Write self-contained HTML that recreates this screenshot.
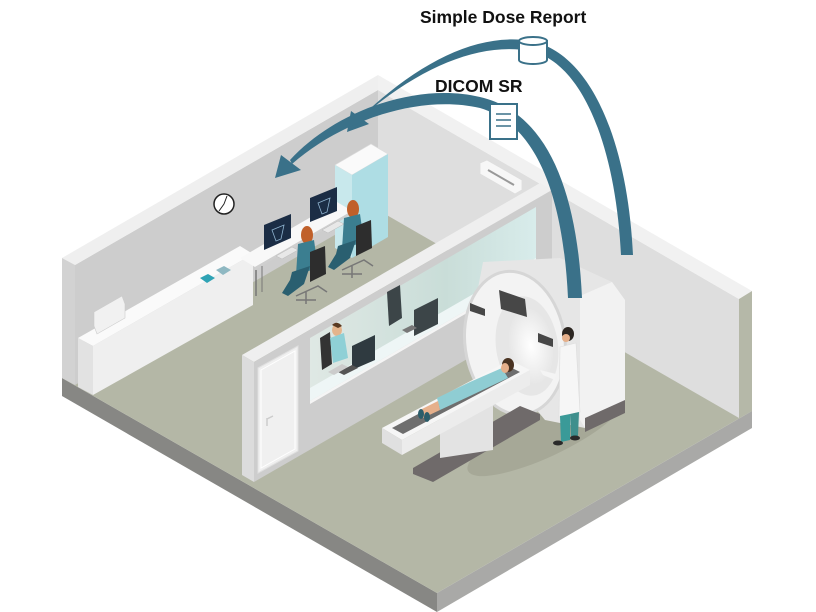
<!DOCTYPE html>
<html><head><meta charset="utf-8"><style>
html,body{margin:0;padding:0;background:#fff;}
svg{display:block;}
text{font-family:"Liberation Sans",sans-serif;font-weight:bold;fill:#111;}
</style></head><body>
<svg width="816" height="612" viewBox="0 0 816 612" xmlns="http://www.w3.org/2000/svg">
<defs>
<linearGradient id="glass" x1="0" y1="0" x2="1" y2="0">
<stop offset="0" stop-color="#dfe8e4"/><stop offset="0.6" stop-color="#c9ddd8"/><stop offset="1" stop-color="#d8eceb"/>
</linearGradient>
<radialGradient id="hole" cx="0.5" cy="0.5" r="0.6"><stop offset="0" stop-color="#ffffff"/><stop offset="1" stop-color="#e2e2e2"/></radialGradient>
</defs>

<polygon points="62,378 437,593 437,612 62,396" fill="#878784"/>
<polygon points="437,593 752,411 752,428 437,612" fill="#a9a9a7"/>
<polygon points="62,378 378,195 752,411 437,593" fill="#b4b7a6"/>

<polygon points="75,265 378,90 378,210 75,385" fill="#cdcdcd"/>
<polygon points="62,258 378,75 378,90 75,265" fill="#efefef"/>
<polygon points="62,258 75,265 75,385 62,378" fill="#d2d2d2"/>
<polygon points="378,90 739,299 739,418 378,210" fill="#dedede"/>
<polygon points="378,75 752,291 739,299 378,90" fill="#f1f1f1"/>
<polygon points="739,299 752,291 752,411 739,418" fill="#b5b8a8"/>

<circle cx="224" cy="204" r="10" fill="#fff" stroke="#222" stroke-width="1.5"/>
<path d="M224,204 L227,196 M224,204 L219,211" stroke="#222" stroke-width="1" fill="none"/>
<polygon points="480,163 487,160 522,180 522,190 515,194 480,174" fill="#f7f7f7" stroke="#ddd" stroke-width="0.8"/>
<line x1="488" y1="170" x2="514" y2="185" stroke="#999" stroke-width="2"/>

<polygon points="78,338 240,246 253,254 93,346" fill="#fafafa"/>
<polygon points="93,346 253,254 253,305 93,395" fill="#efefef"/>
<polygon points="78,338 93,346 93,395 78,387" fill="#e2e2e2"/>
<polygon points="200,278 208,274 215,278 207,283" fill="#2fa3b5"/>
<polygon points="216,270 224,266 231,270 223,275" fill="#8fb8c2"/>
<polygon points="94,312 122,296 125,304 125,318 97,334 94,326" fill="#f1f1f1" stroke="#ccc" stroke-width="0.6"/>

<polygon points="335,165 371,144 388,154 352,175" fill="#fafafa" stroke="#ddd" stroke-width="0.6"/>
<polygon points="335,165 352,175 352,258 335,248" fill="#c8e8ec"/>
<polygon points="352,175 388,154 388,237 352,258" fill="#aedde4"/>
<polygon points="240,258 337,202 352,211 255,267" fill="#f8f8f8"/>
<polygon points="255,267 352,211 352,214 255,270" fill="#cfcfcf"/>
<line x1="256" y1="270" x2="256" y2="296" stroke="#777" stroke-width="1.5"/>
<line x1="262" y1="266" x2="262" y2="292" stroke="#777" stroke-width="1"/>
<polygon points="264,225 291,214 291,238 264,250" fill="#1b2d45"/>
<polygon points="310,198 337,187 337,211 310,222" fill="#1b2d45"/>
<path d="M272,230 L284,225 L281,239 L276,241 Z" fill="none" stroke="#8fb4d0" stroke-width="0.8"/>
<path d="M318,203 L330,198 L327,212 L322,214 Z" fill="none" stroke="#8fb4d0" stroke-width="0.8"/>
<polygon points="276,256 292,247 298,250 282,259" fill="#e8e8e8" stroke="#bbb" stroke-width="0.5"/>
<polygon points="322,230 338,221 344,224 328,233" fill="#e8e8e8" stroke="#bbb" stroke-width="0.5"/>
<ellipse cx="307" cy="235" rx="6" ry="9" fill="#c0602a"/>
<path d="M298,244 L314,240 L318,268 L296,275 Z" fill="#3b7e90"/>
<path d="M292,272 L310,266 L304,284 L288,296 L282,293 L290,280 Z" fill="#2a5f70"/>
<polygon points="310,252 325,246 326,274 310,282" fill="#2d2d2d"/>
<path d="M296,296 L318,286 L327,292 M306,292 L306,304 M296,300 L316,300" stroke="#777" stroke-width="1.5" fill="none"/>
<ellipse cx="353" cy="209" rx="6" ry="9" fill="#c0602a"/>
<path d="M344,218 L360,214 L364,242 L342,249 Z" fill="#3b7e90"/>
<path d="M338,246 L356,240 L350,258 L334,270 L328,267 L336,254 Z" fill="#2a5f70"/>
<polygon points="356,226 371,220 372,248 356,256" fill="#2d2d2d"/>
<path d="M342,270 L364,260 L373,266 M352,266 L352,278 M342,274 L362,274" stroke="#777" stroke-width="1.5" fill="none"/>

<polygon points="242,355 540,183 552,190 254,362" fill="#efefef"/>
<polygon points="254,362 552,190 552,310 254,482" fill="#cdcdcd"/>
<polygon points="242,355 254,362 254,482 242,475" fill="#dcdcdc"/>
<polygon points="310,338 536,207 536,270 310,401" fill="url(#glass)"/>
<polygon points="310,388 536,258 536,270 310,401" fill="#eef6f6"/>
<polygon points="310,401 536,270 536,273 310,404" fill="#f5f5f5"/>
<polygon points="320,338 330,332 332,364 322,370" fill="#333"/>
<ellipse cx="337" cy="330" rx="5" ry="6" fill="#e4b48c"/>
<path d="M332,325 Q337,320 342,326 L338,328 Z" fill="#5a3a22"/>
<path d="M330,338 L344,333 L348,358 L333,363 Z" fill="#8fd0d6"/>
<polygon points="352,346 375,335 375,360 352,370" fill="#2f3a40"/>
<polygon points="338,372 352,365 358,368 344,375" fill="#555"/>
<polygon points="328,372 342,364 348,367 334,375" fill="#ccc"/>
<polygon points="387,292 400,285 402,318 389,326" fill="#3c4548"/>
<polygon points="414,310 438,298 438,324 414,336" fill="#3c4548"/>
<polygon points="402,330 412,325 417,328 407,333" fill="#777"/>

<polygon points="258,368 298,346 298,451 258,473" fill="#f0f0f0" stroke="#e0e0e0" stroke-width="1"/>
<polygon points="261,370 295,351 295,449 261,468" fill="none" stroke="#fff" stroke-width="1"/>
<path d="M267,418 L267,426 M267,419 L273,416" stroke="#ccc" stroke-width="1.5" fill="none"/>

<ellipse cx="545" cy="435" rx="85" ry="22" fill="#a6a897" transform="rotate(-25 545 435)"/>
<polygon points="483,262 560,258 612,282 625,300 625,410 585,428 545,420 470,330" fill="#e6e6e6"/>
<polygon points="580,296 612,282 625,300 625,410 585,428 580,420" fill="#f2f2f2"/>
<polygon points="585,418 625,400 625,413 585,432" fill="#6f6a6a"/>
<ellipse cx="515" cy="343" rx="50" ry="72" fill="#f3f3f3" stroke="#d6d6d6" stroke-width="3" transform="rotate(-8 515 343)"/>
<ellipse cx="527" cy="346" rx="31" ry="50" fill="#e6e6e6" transform="rotate(-8 527 346)"/>
<ellipse cx="531" cy="346" rx="22" ry="38" fill="url(#hole)" transform="rotate(-8 531 346)"/>
<polygon points="499,290 525,299 527,317 501,309" fill="#474747"/>
<polygon points="470,303 485,309 485,316 470,311" fill="#474747"/>
<polygon points="538,333 553,339 553,347 538,342" fill="#474747"/>
<polygon points="413,468 520,406 540,414 540,420 433,482 413,474" fill="#6f6a6a"/>
<polygon points="440,418 493,390 493,450 440,458" fill="#e3e3e3"/>
<polygon points="382,428 510,360 530,370 402,440" fill="#f6f6f6"/>
<polygon points="382,428 402,440 402,455 382,443" fill="#e0e0e0"/>
<polygon points="402,440 530,370 530,385 402,455" fill="#ececec"/>
<polygon points="392,428 508,366 520,372 403,434" fill="#6e6e6e"/>
<path d="M437,398 L470,382 L502,368 L508,378 L470,396 L440,410 Z" fill="#8fcdd3"/>
<polygon points="420,410 438,401 440,410 423,418" fill="#e6b08b"/>
<ellipse cx="421" cy="414" rx="3" ry="5" fill="#2b5d6a"/>
<ellipse cx="427" cy="417" rx="3" ry="5" fill="#2b5d6a"/>
<ellipse cx="508" cy="365" rx="6" ry="7" fill="#4a3322"/>
<ellipse cx="505" cy="368" rx="4" ry="5" fill="#e6b08b"/>
<path d="M555,380 L543,375 L540,370 L556,374 Z" fill="#f4f4f4"/>
<path d="M560,347 L576,343 L580,412 L559,417 Z" fill="#f6f6f6" stroke="#ddd" stroke-width="0.6"/>
<ellipse cx="568" cy="334" rx="6" ry="7" fill="#2b2520"/>
<ellipse cx="566" cy="338" rx="4" ry="4" fill="#e6b08b"/>
<polygon points="560,416 570,414 570,440 561,442" fill="#3a9a98"/>
<polygon points="570,414 579,412 578,436 571,438" fill="#3f8f8d"/>
<ellipse cx="558" cy="443" rx="5" ry="2.5" fill="#2a2a2a"/>
<ellipse cx="575" cy="438" rx="5" ry="2.5" fill="#2a2a2a"/>

<path d="M621,255 C616,152 585,64 531,51 C480,42 420,66 357,121 L359,119 C418,62 478,32 531,41 C594,54 628,148 633,255 Z" fill="#3a7189"/>
<polygon points="347,132 351,111 369,124" fill="#3a7189"/>
<path d="M568,298 C563,192 535,124 480,108 C420,94 342,120 292,164 L290,160 C336,110 418,82 480,97 C545,112 577,186 582,298 Z" fill="#3a7189"/>
<polygon points="275,178 281,155 301,170" fill="#3a7189"/>
<path d="M519,41 L519,60 A14,4 0 0 0 547,60 L547,41 Z" fill="#fff" stroke="#3a7189" stroke-width="2"/>
<ellipse cx="533" cy="41" rx="14" ry="4" fill="#fff" stroke="#3a7189" stroke-width="2"/>
<rect x="490" y="104" width="27" height="35" fill="#fff" stroke="#3a7189" stroke-width="2"/>
<path d="M496,114 L511,114 M496,120 L511,120 M496,126 L511,126" stroke="#3a7189" stroke-width="1.5"/>

<text x="420" y="23" font-size="17.5">Simple Dose Report</text>
<text x="435" y="92" font-size="17.5">DICOM SR</text>
</svg>
</body></html>
